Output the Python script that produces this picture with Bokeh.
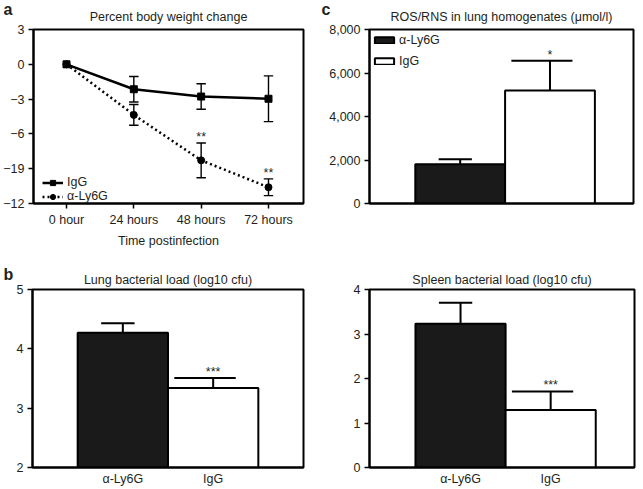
from bokeh.plotting import figure
from bokeh.layouts import column, row
from bokeh.models import (Label, Legend, LegendItem, FixedTicker, NumeralTickFormatter,
                          Range1d, ColumnDataSource, Title)
from bokeh.core.properties import value
from bokeh.embed import file_html
from bokeh.resources import INLINE

# ---------------- data ----------------
timepoints = ["0 hour", "24 hours", "48 hours", "72 hours"]
igg_weight = [0.0, -2.15, -2.78, -2.97]
igg_weight_err = [0.0, 1.1, 1.1, 1.97]
ly6g_weight = [0.0, -4.36, -8.28, -10.6]
ly6g_weight_err = [0.0, 0.9, 1.5, 0.72]
weight_sig = ["", "", "**", "**"]
weight_ticks = [-12, -9, -6, -3, 0, 3]
weight_tick_labels = ["\u221212", "\u221219", "\u22126", "\u22123", "0", "3"]

groups = ["\u03b1-Ly6G", "IgG"]
ros_values = [1800, 5190]
ros_err = [230, 1370]
ros_sig = ["", "*"]
lung_values = [4.27, 3.34]
lung_err = [0.16, 0.17]
lung_sig = ["", "***"]
spleen_values = [3.23, 1.29]
spleen_err = [0.47, 0.42]
spleen_sig = ["", "***"]

# ---------------- style ----------------
FONT = "Liberation Sans"
FS = "12.5px"
TXT = "#231f20"
BAR_FILLS = ["#1a1a1a", "white"]
CAP_LEFT = [0.24, 0.43]
CAP_RIGHT = [0.13, 0.25]


def make_fig(w, h, bl, br, bt, bb, xr, yr, title, title_standoff):
    p = figure(width=w, height=h, x_range=xr, y_range=yr, output_backend="svg",
               toolbar_location=None, tools="",
               min_border_left=bl, min_border_right=br, min_border_top=bt, min_border_bottom=bb)
    p.xgrid.visible = False
    p.ygrid.visible = False
    p.outline_line_color = "black"
    p.outline_line_width = 2
    p.background_fill_color = "white"
    p.border_fill_color = "white"
    for ax in (p.xaxis[0], p.yaxis[0]):
        ax.axis_line_width = 2
        ax.axis_line_color = "black"
        ax.major_tick_in = 0
        ax.major_tick_out = 5
        ax.major_tick_line_width = 1.5
        ax.minor_tick_line_color = None
        ax.major_label_text_font = FONT
        ax.major_label_text_font_size = FS
        ax.major_label_text_color = TXT
        ax.major_label_standoff = 4
    p.add_layout(Title(text=title, align="center", text_font=FONT, text_font_size=FS,
                       text_font_style="normal", text_color=TXT, standoff=title_standoff), "above")
    return p


def add_letter(p, letter, frame_h, x_from_frame_right, y_above_frame):
    p.add_layout(Label(x=x_from_frame_right, y=frame_h + y_above_frame,
                       x_units="screen", y_units="screen", text=letter,
                       text_font=FONT, text_font_size="16px", text_color=TXT,
                       text_font_style="bold", text_align="left", text_baseline="alphabetic"),
                 "right")


# ---------------- panel a ----------------
FW_A, FH_A = 271, 179
pa = make_fig(320, 250, 32, 17, 29, 42, Range1d(-0.49, 3.52), Range1d(-12, 3),
              "Percent body weight change", 11)
pa.xaxis.ticker = FixedTicker(ticks=list(range(len(timepoints))))
pa.xaxis.major_label_overrides = {i: t for i, t in enumerate(timepoints)}
pa.xaxis.axis_label = "Time postinfection"
pa.xaxis.axis_label_text_font = FONT
pa.xaxis.axis_label_text_font_size = FS
pa.xaxis.axis_label_text_font_style = "normal"
pa.xaxis.axis_label_text_color = TXT
pa.xaxis.axis_label_standoff = 4
pa.yaxis.ticker = FixedTicker(ticks=weight_ticks)
pa.yaxis.major_label_overrides = {t: l for t, l in zip(weight_ticks, weight_tick_labels)}

xs = list(range(len(timepoints)))
for vals, errs in ((igg_weight, igg_weight_err), (ly6g_weight, ly6g_weight_err)):
    ex = [x for x, e in zip(xs, errs) if e > 0]
    lo = [v - e for v, e in zip(vals, errs) if e > 0]
    hi = [v + e for v, e in zip(vals, errs) if e > 0]
    pa.segment(x0=ex, y0=lo, x1=ex, y1=hi, line_color="black", line_width=1.4)
    for yy in (lo, hi):
        pa.segment(x0=[x - 0.07 for x in ex], y0=yy, x1=[x + 0.07 for x in ex], y1=yy,
                   line_color="black", line_width=1.4)

r_igg_line = pa.line(xs, igg_weight, line_color="black", line_width=2.5)
r_igg_pts = pa.scatter(xs, igg_weight, marker="square", size=7, color="black")
r_ly_line = pa.line(xs, ly6g_weight, line_color="black", line_width=2.5, line_dash="2 3")
r_ly_pts = pa.scatter(xs, ly6g_weight, marker="circle", size=7, color="black")

sig_src = ColumnDataSource(dict(x=xs, y=[v + e for v, e in zip(ly6g_weight, ly6g_weight_err)], t=weight_sig))
pa.text(x="x", y="y", text="t", source=sig_src, text_font=value(FONT), text_font_size=FS,
        text_color=TXT, text_align="center", text_baseline="bottom", y_offset=1)

leg_a = Legend(items=[LegendItem(label="IgG", renderers=[r_igg_line, r_igg_pts]),
                      LegendItem(label="\u03b1-Ly6G", renderers=[r_ly_line, r_ly_pts])],
               location=(9, 0), padding=0, margin=0, spacing=-1, glyph_width=21, glyph_height=13,
               label_height=13, label_standoff=4, border_line_color=None, background_fill_alpha=0,
               label_text_font=FONT, label_text_font_size=FS, label_text_color=TXT)
pa.add_layout(leg_a)
add_letter(pa, "a", FH_A, 3 - 303, 15)


# ---------------- bar panels ----------------
def bar_panel(p, vals, errs, sig, base, with_legend=False):
    xs = list(range(len(vals)))
    src = ColumnDataSource(dict(x=xs, top=vals, fill=BAR_FILLS[:len(vals)], label=groups))
    r = p.vbar(x="x", top="top", bottom=base, width=1.0, source=src, fill_color="fill",
               line_color="black", line_width=2)
    tops = [v + e for v, e in zip(vals, errs)]
    p.segment(x0=xs, y0=vals, x1=xs, y1=tops, line_color="black", line_width=2)
    p.segment(x0=[x - c for x, c in zip(xs, CAP_LEFT)], y0=tops,
              x1=[x + c for x, c in zip(xs, CAP_RIGHT)], y1=tops, line_color="black", line_width=2)
    ssrc = ColumnDataSource(dict(x=xs, y=tops, t=sig))
    p.text(x="x", y="y", text="t", source=ssrc, text_font=value(FONT), text_font_size=FS,
           text_color=TXT, text_align="center", text_baseline="bottom", y_offset=1)
    if with_legend:
        leg = Legend(items=[LegendItem(label=groups[i], renderers=[r], index=i) for i in range(len(vals))],
                     padding=0, margin=0, spacing=7, glyph_width=24, glyph_height=8,
                     label_height=8, label_standoff=3, border_line_color=None,
                     background_fill_alpha=0, label_text_font=FONT, label_text_font_size=FS,
                     label_text_color=TXT)
        return leg
    return None


def bar_xaxis(p, show_labels=True):
    ax = p.xaxis[0]
    ax.major_tick_out = 0
    if show_labels:
        ax.ticker = FixedTicker(ticks=[0, 1])
        ax.major_label_overrides = {i: g for i, g in enumerate(groups)}
    else:
        ax.ticker = FixedTicker(ticks=[])


# panel c
FW_C, FH_C = 265, 179
pc = make_fig(322, 250, 49, 8, 29, 42, Range1d(-1.01, 1.93), Range1d(0, 8000),
              "ROS/RNS in lung homogenates (\u03bcmol/l)", 11)
bar_xaxis(pc, show_labels=False)
pc.yaxis.ticker = FixedTicker(ticks=[0, 2000, 4000, 6000, 8000])
pc.yaxis.formatter = NumeralTickFormatter(format="0,0")
leg_c = bar_panel(pc, ros_values, ros_err, ros_sig, 0, with_legend=True)
leg_c.location = (3, FH_C - 7 - 37)
pc.add_layout(leg_c)
add_letter(pc, "c", FH_C, 322 - 634, 15)

# panel b lung
FW_B, FH_B = 271, 180
pb = make_fig(320, 238, 32, 17, 39, 19, Range1d(-1, 2), Range1d(2, 5),
              "Lung bacterial load (log10 cfu)", 6)
bar_xaxis(pb)
pb.yaxis.ticker = FixedTicker(ticks=[2, 3, 4, 5])
bar_panel(pb, lung_values, lung_err, lung_sig, 2)
add_letter(pb, "b", FH_B, 3 - 303, 13)

# panel b spleen
FW_D, FH_D = 265, 180
pd_ = make_fig(322, 238, 49, 8, 39, 19, Range1d(-1.01, 1.93), Range1d(0, 4),
               "Spleen bacterial load (log10 cfu)", 6)
bar_xaxis(pd_)
pd_.yaxis.ticker = FixedTicker(ticks=[0, 1, 2, 3, 4])
bar_panel(pd_, spleen_values, spleen_err, spleen_sig, 0)

layout = column(row(pa, pc), row(pb, pd_))
open("out.html", "w").write(file_html(layout, INLINE))
